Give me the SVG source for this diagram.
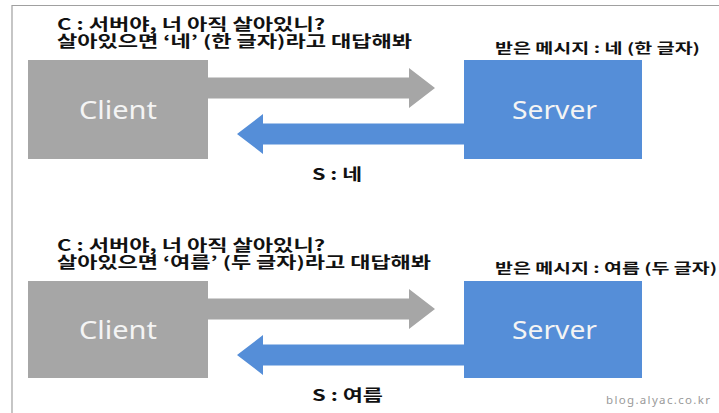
<svg xmlns="http://www.w3.org/2000/svg" width="719" height="413" viewBox="0 0 719 413">
  <style>
    .frame { stroke: #a0a0a0; stroke-width: 1.2; fill: none; }
    .client { fill: #a6a6a6; }
    .server { fill: #558ed8; }
    .garrow { fill: #a6a6a6; }
    .barrow { fill: #558ed8; }
    .nlabel { font-family: "Noto Sans", "Open Sans", sans-serif; font-size: 26px; fill: #f4f4f4; }
    .ko { font-family: "Noto Sans CJK KR", "Noto Sans", sans-serif; font-weight: bold; fill: #111111; }
    .big { font-size: 15.5px; }
    .small { font-size: 13.5px; }
    .mark { font-family: "Noto Sans", sans-serif; font-size: 11.5px; fill: #9a9a9a; }
  </style>
  <rect width="719" height="413" fill="#ffffff"/>
  <path class="frame" d="M12,413 L12,5.5 L719,5.5"/>

  <g id="connectors">
    <polygon id="req1" class="garrow" points="208,77.5 409,77.5 409,68 435,88 409,108 409,98.5 208,98.5"/>
    <polygon id="res1" class="barrow" points="464,123.5 263,123.5 263,114 237,134 263,154 263,144.5 464,144.5"/>
    <polygon id="req2" class="garrow" points="208,298.5 409,298.5 409,289 435,309 409,329 409,319.5 208,319.5"/>
    <polygon id="res2" class="barrow" points="464,344.5 263,344.5 263,335 237,355 263,375 263,365.5 464,365.5"/>
  </g>

  <g id="client1">
    <rect class="client" x="28" y="60" width="180" height="99"/>
    <text class="nlabel" x="79" y="119" textLength="78" lengthAdjust="spacingAndGlyphs">Client</text>
  </g>
  <g id="server1">
    <rect class="server" x="464" y="60" width="178" height="99"/>
    <text class="nlabel" x="512" y="119" textLength="85" lengthAdjust="spacingAndGlyphs">Server</text>
  </g>
  <g id="client2">
    <rect class="client" x="28" y="281" width="180" height="97"/>
    <text class="nlabel" x="79" y="339" textLength="78" lengthAdjust="spacingAndGlyphs">Client</text>
  </g>
  <g id="server2">
    <rect class="server" x="464" y="281" width="178" height="97"/>
    <text class="nlabel" x="512" y="339" textLength="85" lengthAdjust="spacingAndGlyphs">Server</text>
  </g>

  <g id="labels">
    <text class="ko big"><tspan x="57" y="30" textLength="268" lengthAdjust="spacingAndGlyphs">C : 서버야, 너 아직 살아있니?</tspan><tspan x="57" y="46.5" textLength="355" lengthAdjust="spacingAndGlyphs">살아있으면 ‘네’ (한 글자)라고 대답해봐</tspan></text>
    <text class="ko small" x="495" y="53" textLength="205" lengthAdjust="spacingAndGlyphs">받은 메시지 : 네 (한 글자)</text>
    <text class="ko big" x="312" y="180" textLength="50" lengthAdjust="spacingAndGlyphs">S : 네</text>

    <text class="ko big"><tspan x="57" y="251" textLength="268" lengthAdjust="spacingAndGlyphs">C : 서버야, 너 아직 살아있니?</tspan><tspan x="57" y="267.5" textLength="374" lengthAdjust="spacingAndGlyphs">살아있으면 ‘여름’ (두 글자)라고 대답해봐</tspan></text>
    <text class="ko small" x="495" y="273" textLength="222" lengthAdjust="spacingAndGlyphs">받은 메시지 : 여름 (두 글자)</text>
    <text class="ko big" x="312" y="401" textLength="71" lengthAdjust="spacingAndGlyphs">S : 여름</text>

    <text class="mark" x="606" y="404" textLength="104" lengthAdjust="spacing">blog.alyac.co.kr</text>
  </g>
</svg>
